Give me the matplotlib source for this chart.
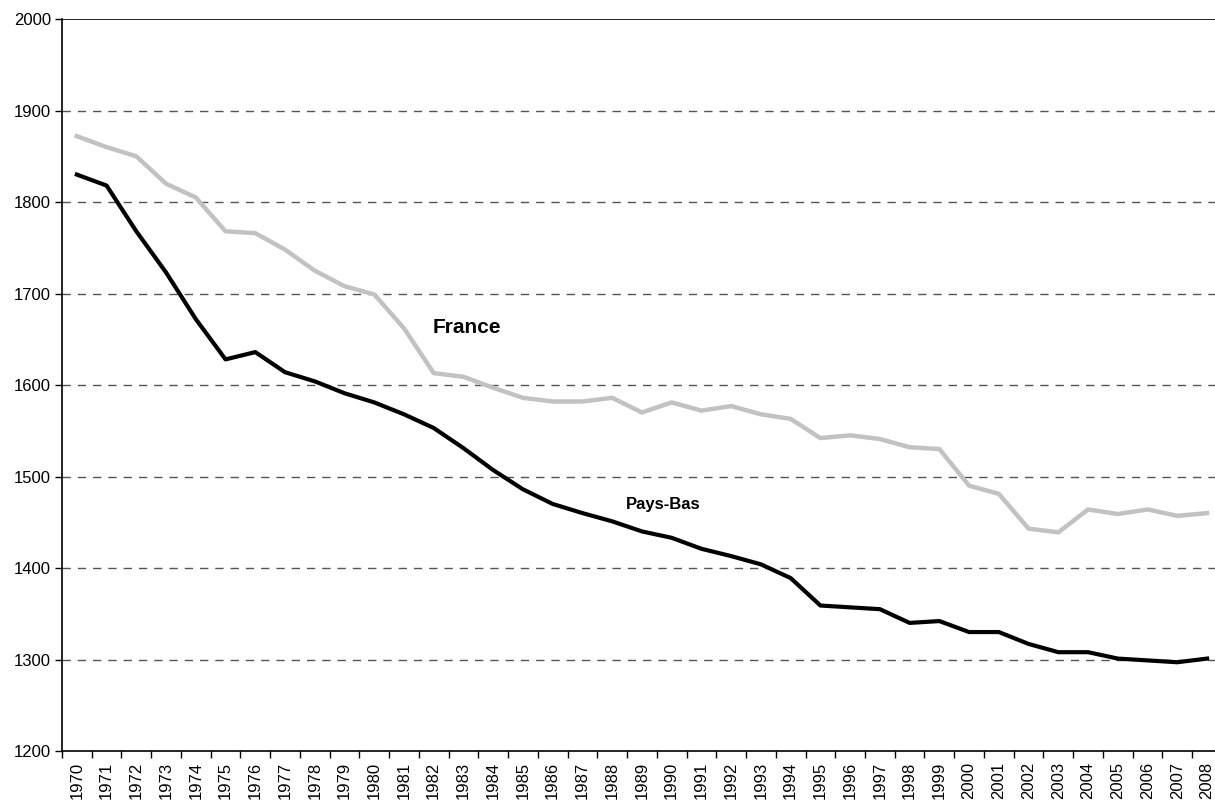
import matplotlib
matplotlib.use("Agg")
import matplotlib.pyplot as plt
import numpy as np

plt.rcParams["font.family"] = ["Liberation Sans", "DejaVu Sans"]

years = list(range(1970, 2009))
france = [1872, 1860, 1850, 1820, 1805, 1768, 1766, 1748, 1725, 1708,
          1699, 1662, 1613, 1609, 1597, 1586, 1582, 1582, 1586, 1570,
          1581, 1572, 1577, 1568, 1563, 1542, 1545, 1541, 1532, 1530,
          1490, 1481, 1443, 1439, 1464, 1459, 1464, 1457, 1460]
pays_bas = [1830, 1818, 1768, 1723, 1672, 1628, 1636, 1614, 1604, 1591,
            1581, 1568, 1553, 1531, 1507, 1486, 1470, 1460, 1451, 1440,
            1433, 1421, 1413, 1404, 1389, 1359, 1357, 1355, 1340, 1342,
            1330, 1330, 1317, 1308, 1308, 1301, 1299, 1297, 1301]
y_ticks = [1200, 1300, 1400, 1500, 1600, 1700, 1800, 1900, 2000]

fig = plt.figure(figsize=(12.15, 8.07), dpi=100)
# plot area runs slightly past the right edge of the picture, as in the original
ax = fig.add_axes([0.051, 0.0694, 0.9547, 0.907])

x = np.arange(len(years))
for yv in y_ticks[1:-1]:
    ax.axhline(yv, color="#555555", lw=1, ls=(0, (6, 5)), zorder=1)
ax.axhline(2000, color="black", lw=1.2, zorder=1)

ax.plot(x, france, color="#c2c2c2", lw=3.2, zorder=3)
ax.plot(x, pays_bas, color="black", lw=3, zorder=4)

ax.text(11.97, 1663, "France", fontsize=15, fontweight="bold", va="center", ha="left")
ax.text(18.46, 1469, "Pays-Bas", fontsize=12, fontweight="bold", va="center", ha="left")

ax.set_xlim(-0.5, len(years) - 0.5)
ax.set_ylim(1200, 2000)
ax.set_yticks(y_ticks)
ax.set_yticklabels([str(v) for v in y_ticks], fontsize=12)
ax.set_xticks(x)
ax.set_xticklabels([str(y) for y in years], rotation=90, fontsize=12)
ax.set_xticks(np.arange(-0.5, len(years), 1), minor=True)
ax.tick_params(axis="x", which="major", length=0, pad=8)
ax.tick_params(axis="x", which="minor", length=5, width=1, direction="out")
ax.tick_params(axis="y", length=5, width=1, direction="out", pad=3)

for s in ("right", "top"):
    ax.spines[s].set_visible(False)
ax.spines["left"].set_linewidth(1.2)
ax.spines["bottom"].set_linewidth(1.2)

fig.savefig("out.png", dpi=100)
